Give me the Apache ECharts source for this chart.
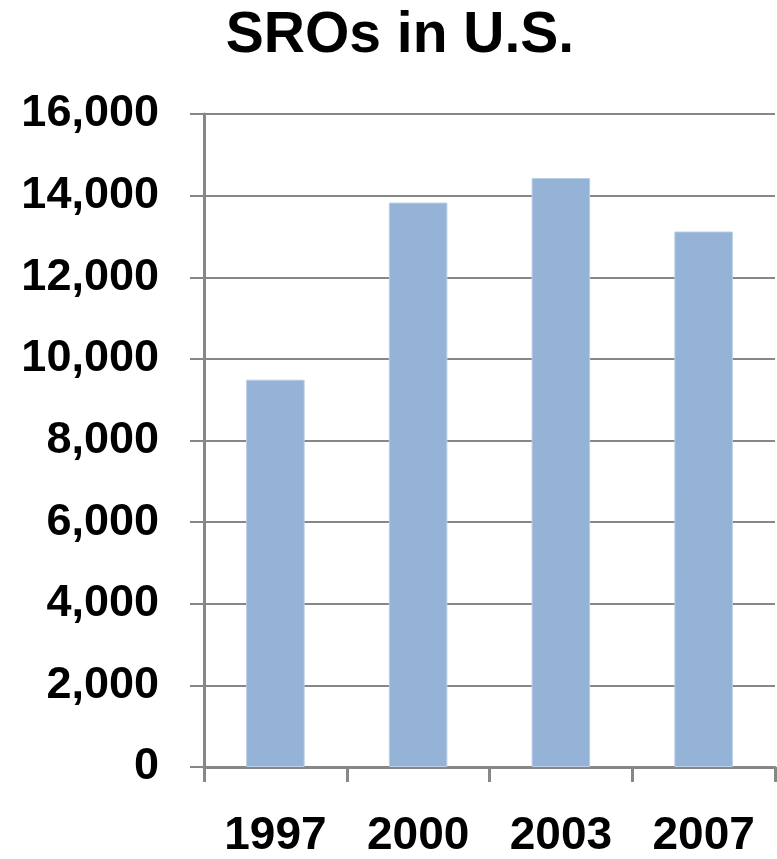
<!DOCTYPE html>
<html>
<head>
<meta charset="utf-8">
<script src="https://cdn.jsdelivr.net/npm/echarts@6/dist/echarts.min.js"></script>
<style>
  html, body { margin: 0; padding: 0; background: #fff; }
  #chart { width: 777px; height: 859px; }
</style>
</head>
<body>
<div id="chart"></div>
<script>
// SRO counts in the U.S. by survey year
const years = ['1997', '2000', '2003', '2007'];
const sroCounts = [9490, 13830, 14430, 13120];
const yTicks = { min: 0, max: 16000, interval: 2000 };

const axisGray = '#878787';
const fontFamily = '"Liberation Sans", Arial, sans-serif';

const chart = echarts.init(document.getElementById('chart'), null, { renderer: 'canvas' });
chart.setOption({
  animation: false,
  backgroundColor: '#ffffff',
  title: {
    text: 'SROs in U.S.',
    left: 395,
    top: 3,
    textAlign: 'center',
    textStyle: { fontFamily, fontWeight: 'bold', fontSize: 57, color: '#000' }
  },
  grid: { left: 204, right: 2, top: 114, bottom: 88, containLabel: false },
  xAxis: {
    type: 'category',
    data: years,
    axisLine: { show: true, lineStyle: { color: axisGray, width: 3 } },
    axisTick: { show: true, length: 15, lineStyle: { color: axisGray, width: 3 } },
    axisLabel: { margin: 46, fontFamily, fontWeight: 'bold', fontSize: 46, color: '#000' },
    splitLine: { show: false }
  },
  yAxis: {
    type: 'value',
    min: yTicks.min,
    max: yTicks.max,
    interval: yTicks.interval,
    axisLine: { show: true, lineStyle: { color: axisGray, width: 3 } },
    axisTick: { show: true, length: 14, lineStyle: { color: axisGray, width: 2 } },
    axisLabel: {
      margin: 45,
      fontFamily, fontWeight: 'bold', fontSize: 45, color: '#000',
      formatter: v => v.toLocaleString('en-US')
    },
    splitLine: { show: true, lineStyle: { color: axisGray, width: 2 } }
  },
  series: [{
    type: 'bar',
    data: sroCounts,
    barWidth: '41%',
    itemStyle: { color: '#95B3D7', borderColor: '#B9CDE5', borderWidth: 1 }
  }]
});
</script>
</body>
</html>
